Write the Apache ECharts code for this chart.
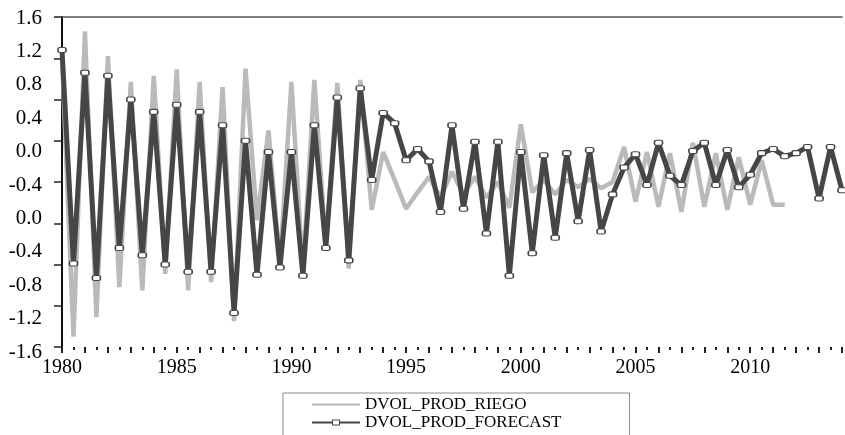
<!DOCTYPE html>
<html>
<head>
<meta charset="utf-8">
<script src="https://cdn.jsdelivr.net/npm/echarts@6/dist/echarts.min.js"></script>
<style>
  html, body { margin: 0; padding: 0; background: #fff; }
  #chart { width: 845px; height: 435px; }
</style>
</head>
<body>
<div id="chart"></div>
<script>
// Semi-annual observations, first half of 1980 through first half of 2014
const firstYear = 1980;
const lastYear = 2014;

// Left-hand tick labels, top to bottom
const yTickLabels = ['1.6', '1.2', '0.8', '0.4', '0.0', '-0.4', '0.0', '-0.4', '-0.8', '-1.2', '-1.6'];

// Observed series (1980S1 .. 2011S2)
const riego = [
  1.22, -1.50, 1.46, -1.31, 1.22, -1.02, 0.97, -1.05, 1.03, -0.89,
  1.09, -1.05, 0.97, -0.97, 0.92, -1.35, 1.10, -0.37, 0.50, -0.80,
  0.97, -0.88, 0.99, -0.62, 0.96, -0.84, 0.99, -0.27, 0.29, 0.02,
  -0.26, -0.10, 0.05, -0.15, 0.10, -0.12, 0.05, -0.15, 0.00, -0.25,
  0.56, -0.10, 0.02, -0.12, 0.02, -0.05, 0.03, -0.06, 0.00, 0.34,
  -0.19, 0.29, -0.24, 0.28, -0.29, 0.38, -0.24, 0.28, -0.27, 0.24,
  -0.22, 0.21, -0.22, -0.22
];

// Forecast series (1980S1 .. 2014S1)
const forecast = [
  1.28, -0.79, 1.06, -0.93, 1.03, -0.64, 0.80, -0.71, 0.68, -0.80,
  0.75, -0.87, 0.68, -0.87, 0.55, -1.27, 0.40, -0.90, 0.29, -0.83,
  0.29, -0.91, 0.55, -0.64, 0.82, -0.76, 0.91, 0.02, 0.67, 0.57,
  0.21, 0.32, 0.20, -0.29, 0.55, -0.26, 0.39, -0.50, 0.39, -0.91,
  0.29, -0.69, 0.26, -0.54, 0.28, -0.38, 0.31, -0.48, -0.12, 0.14,
  0.27, -0.03, 0.38, 0.06, -0.03, 0.30, 0.38, -0.03, 0.31, -0.05,
  0.07, 0.28, 0.32, 0.25, 0.28, 0.34, -0.16, 0.34, -0.08
];

// Period labels 'YYYYS1' / 'YYYYS2'
const periods = [];
for (let y = firstYear; y <= lastYear; y++) {
  periods.push(y + 'S1');
  if (y < lastYear) periods.push(y + 'S2');
}

// Position of a period on the year scale
function periodPos(p) {
  return parseInt(p.slice(0, 4), 10) + (p.slice(5) === '2' ? 0.5 : 0);
}
function toPairs(values) {
  return values.map((v, i) => [periodPos(periods[i]), v]);
}

const serif = 'Liberation Serif, Times New Roman, serif';
const darkColor = '#464646';
const lightColor = '#bababa';

// Legend keys: a plain line, and a line with a small hollow box in the middle
const plainLineIcon = 'path://M0,3H48V5H0Z';
const boxLineIcon = 'path://M0,3H20V1H28V3H48V5H28V7H20V5H0Z M21,2V6H27V2Z';

const chart = echarts.init(document.getElementById('chart'), null, { renderer: 'canvas' });

chart.setOption({
  animation: false,
  backgroundColor: '#ffffff',
  grid: [
    { left: 62, right: 0, top: 17, bottom: 88, containLabel: false },
    { left: 62, right: 0, top: 18, bottom: 83, containLabel: false }
  ],
  xAxis: [
    {
      type: 'value',
      gridIndex: 0,
      position: 'bottom',
      min: firstYear,
      max: lastYear,
      interval: 1,
      // no visible baseline, only the tick row below the plot
      axisLine: { show: true, onZero: false, lineStyle: { color: '#222', width: 1, opacity: 0 } },
      axisTick: { show: true, inside: false, length: 6, lineStyle: { color: '#222', width: 2 } },
      minorTick: { show: true, splitNumber: 2, length: 3, lineStyle: { color: '#222', width: 2 } },
      splitLine: { show: false },
      axisLabel: {
        margin: 11,
        color: '#000',
        fontFamily: serif,
        fontSize: 20,
        formatter: v => (v % 5 === 0 ? String(v) : '')
      }
    },
    {
      type: 'value',
      gridIndex: 0,
      position: 'top',
      min: firstYear,
      max: lastYear,
      axisLine: { show: true, onZero: false, lineStyle: { color: '#555', width: 1.5 } },
      axisTick: { show: false },
      axisLabel: { show: false },
      splitLine: { show: false }
    },
    {
      type: 'value',
      gridIndex: 1,
      show: false,
      min: 0,
      max: 1
    }
  ],
  yAxis: [
    {
      type: 'value',
      gridIndex: 0,
      min: -1.6,
      max: 1.6,
      interval: 0.4,
      axisLine: { show: true, onZero: false, lineStyle: { color: '#111', width: 2 } },
      axisTick: { show: true, length: 8, lineStyle: { color: '#222', width: 1.5 } },
      axisLabel: { show: false },
      splitLine: { show: false }
    },
    {
      type: 'value',
      gridIndex: 1,
      min: 0,
      max: 10,
      interval: 1,
      axisLine: { show: false },
      axisTick: { show: false },
      splitLine: { show: false },
      axisLabel: {
        margin: 20,
        color: '#000',
        fontFamily: serif,
        fontSize: 21,
        formatter: v => yTickLabels[10 - v]
      }
    }
  ],
  legend: {
    orient: 'vertical',
    left: 283,
    top: 393,
    height: 80,
    padding: [3, 68, 20, 29],
    itemWidth: 48,
    itemHeight: 10,
    itemGap: 1,
    borderColor: '#8a8a8a',
    borderWidth: 1,
    textStyle: { color: '#000', fontFamily: serif, fontSize: 17, lineHeight: 17 },
    data: [
      { name: 'DVOL_PROD_RIEGO', icon: plainLineIcon, itemStyle: { color: lightColor, borderWidth: 0 } },
      { name: 'DVOL_PROD_FORECAST', icon: boxLineIcon, itemStyle: { color: darkColor, borderWidth: 0 } }
    ]
  },
  series: [
    {
      name: 'DVOL_PROD_RIEGO',
      type: 'line',
      xAxisIndex: 0,
      yAxisIndex: 0,
      data: toPairs(riego),
      showSymbol: false,
      symbol: 'none',
      lineStyle: { color: lightColor, width: 4.5 },
      itemStyle: { color: lightColor },
      z: 2
    },
    {
      name: 'DVOL_PROD_FORECAST',
      type: 'line',
      xAxisIndex: 0,
      yAxisIndex: 0,
      data: toPairs(forecast),
      symbol: 'roundRect',
      symbolSize: [8, 5],
      showSymbol: true,
      lineStyle: { color: darkColor, width: 5 },
      itemStyle: { color: '#ffffff', borderColor: darkColor, borderWidth: 1.3 },
      z: 3
    }
  ]
});
</script>
</body>
</html>
